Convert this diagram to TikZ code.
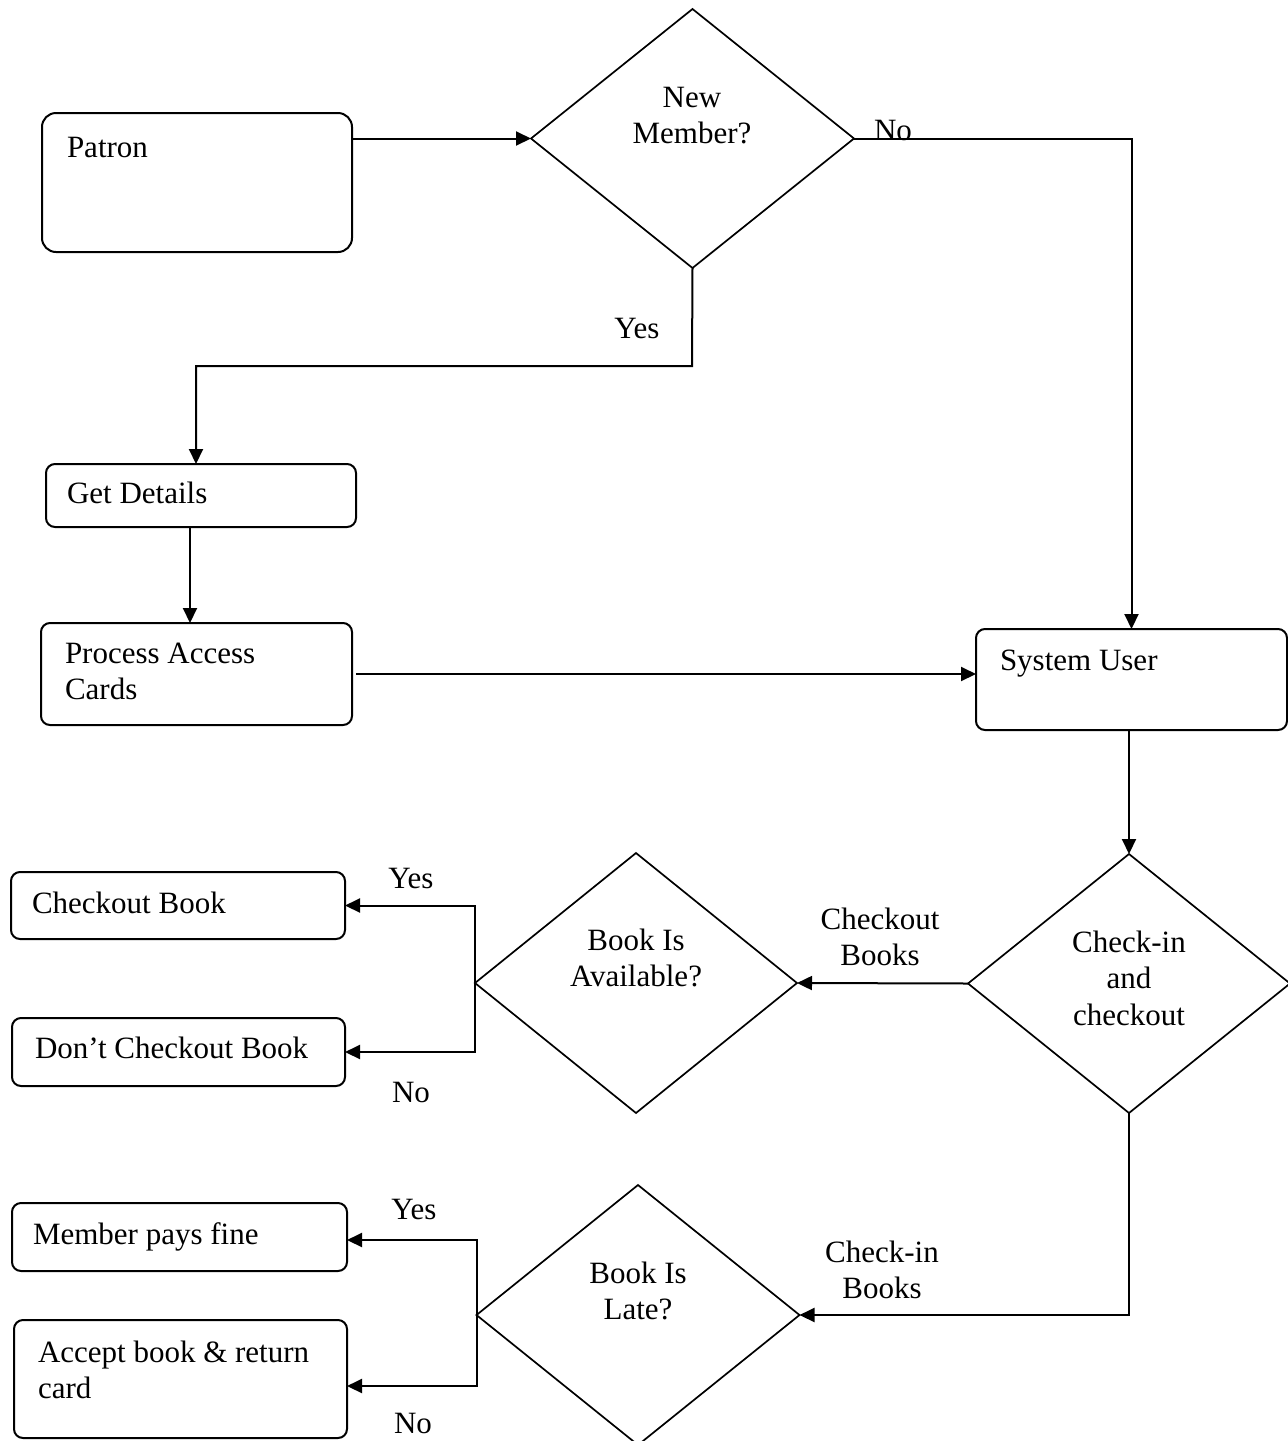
\documentclass[tikz,border=0pt]{standalone}
\usepackage{fontspec}
\setmainfont{Liberation Serif}
\usetikzlibrary{arrows.meta,shapes.geometric}
\newcommand\flowfont{\fontsize{31}{36.5}\selectfont}
\begin{document}
\begin{tikzpicture}[x=1pt,y=-1pt,
  every node/.style={font=\flowfont, inner sep=0pt, outer sep=0pt},
  box/.style={draw, line width=2pt, rounded corners=9pt, anchor=north west},
  bigbox/.style={box, rounded corners=14pt},
  dia/.style={draw, diamond, line width=1.7pt, inner sep=0pt},
  txt/.style={anchor=base west},
  ctxt/.style={anchor=base},
  arr/.style={line width=2pt, -{Triangle[length=15pt,width=14pt]}}]
\useasboundingbox (0,0) rectangle (1288,1441);

% process boxes
\node[bigbox, minimum width=310pt, minimum height=139pt] (patron) at (42,113) {};
\node[box, minimum width=310pt, minimum height=63pt]  (getd)   at (46,464) {};
\node[box, minimum width=311pt, minimum height=102pt] (proc)   at (41,623) {};
\node[box, minimum width=311pt, minimum height=101pt] (sysu)   at (976,629) {};
\node[box, minimum width=334pt, minimum height=67pt]  (chk)    at (11,872) {};
\node[box, minimum width=333pt, minimum height=68pt]  (dont)   at (12,1018) {};
\node[box, minimum width=335pt, minimum height=68pt]  (fine)   at (12,1203) {};
\node[box, minimum width=333pt, minimum height=118pt] (acc)    at (14,1320) {};

% decisions
\node[dia, minimum width=323pt, minimum height=259pt] (newm)   at (692.5,138.5) {};
\node[dia, minimum width=322pt, minimum height=259pt] (chkd)   at (1129,983.5) {};
\node[dia, minimum width=322pt, minimum height=260pt] (bavail) at (636,983) {};
\node[dia, minimum width=323pt, minimum height=260pt] (late)   at (638,1315) {};

% box texts
\node[txt] (patronT) at (67,157)  {Patron};
\node[txt] (getdT)   at (67,503)  {Get Details};
\node[txt] (procT)   at (65,663)  {\parbox[t]{280pt}{Process Access\\Cards}};
\node[txt] (sysuT)   at (1000,670) {System User};
\node[txt] (chkT)    at (32,913)  {Checkout Book};
\node[txt] (dontT)   at (35,1058) {Don’t Checkout Book};
\node[txt] (fineT)   at (33,1244) {Member pays fine};
\node[txt] (accT)    at (38,1362) {\parbox[t]{300pt}{Accept book \& return\\card}};

% decision texts
\node[ctxt] (newmT)   at (692,107)  {\parbox[t]{300pt}{\centering New\\Member?}};
\node[ctxt] (bavailT) at (636,950)  {\parbox[t]{300pt}{\centering Book Is\\Available?}};
\node[ctxt] (chkdT)   at (1129,952) {\parbox[t]{300pt}{\centering Check-in\\and\\checkout}};
\node[ctxt] (lateT)   at (638,1283) {\parbox[t]{300pt}{\centering Book Is\\Late?}};

% connector labels
\node[ctxt] (lblCo)   at (880,929)  {\parbox[t]{200pt}{\centering Checkout\\Books}};
\node[ctxt] (lblCi)   at (882,1262) {\parbox[t]{200pt}{\centering Check-in\\Books}};
\node[ctxt] (lblYes1) at (637,338)  {Yes};
\node[ctxt] (lblNo1)  at (893,140)  {No};
\node[ctxt] (lblYes2) at (411,888)  {Yes};
\node[ctxt] (lblNo2)  at (411,1102) {No};
\node[ctxt] (lblYes3) at (414,1219) {Yes};
\node[ctxt] (lblNo3)  at (413,1433) {No};

% connectors
\coordinate (ybend) at (692,366);
\draw[arr] (patron.east |- newm.west) -- (newm.west);
\draw[arr] (newm.east) -| (sysu.north);
\draw[arr] (newm.south) -- (ybend) -| ([xshift=-5pt]getd.north);
\draw[arr] ([xshift=-11pt]getd.south) -- ([xshift=-11pt]getd.south |- proc.north);
\draw[arr] ([xshift=4pt]proc.east) -- (proc.east -| sysu.west);
\draw[arr] (sysu.south -| chkd.north) -- (chkd.north);
\draw[arr] (chkd.west) -- (bavail.east);
\draw[arr] (chkd.south) |- (late.east);
\draw[arr] (bavail.west) |- (chk.east);
\draw[arr] (bavail.west) |- (dont.east);
\draw[arr] (late.west) |- ([yshift=-3pt]fine.east);
\draw[arr] (late.west) |- ([yshift=-7pt]acc.east);
\end{tikzpicture}
\end{document}
